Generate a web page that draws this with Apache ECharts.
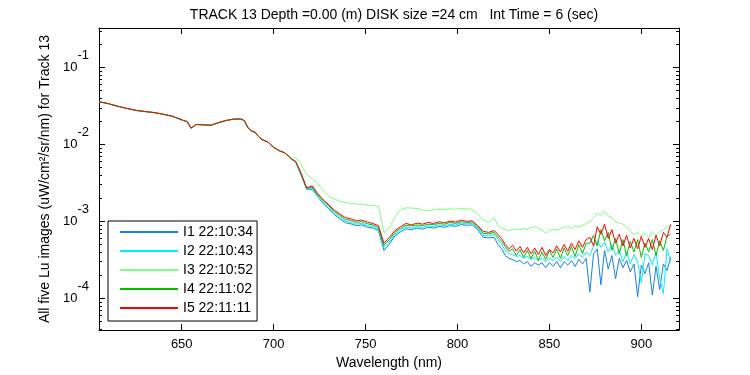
<!DOCTYPE html>
<html>
<head>
<meta charset="utf-8">
<script src="https://cdn.jsdelivr.net/npm/echarts@6/dist/echarts.min.js"></script>
<style>
  html, body { margin: 0; padding: 0; background: #fff; }
  #luChart { width: 750px; height: 375px; }
</style>
</head>
<body>
<div id="luChart"></div>
<script>
// wavelengths where all five curves overlap (nm)
var headWl = [605, 610, 615, 620, 625, 630, 635, 640, 645, 648, 651, 653, 655, 656, 658, 662, 666, 670, 674, 678, 682, 684, 686, 688, 690, 692, 694, 697, 700, 703, 706, 708, 710];
var headLu = [0.036, 0.034, 0.0315, 0.0295, 0.0278, 0.0268, 0.026, 0.0247, 0.0232, 0.0218, 0.0205, 0.0198, 0.0163, 0.0165, 0.0182, 0.018, 0.0178, 0.0192, 0.0205, 0.0213, 0.0215, 0.0205, 0.0165, 0.015, 0.0144, 0.0125, 0.0115, 0.0107, 0.0092, 0.0083, 0.0078, 0.0071, 0.0064];

// wavelengths where the curves split apart (nm)
var tailWl = [712, 715, 718, 721, 724, 727, 730, 733, 736, 739, 742, 745, 748, 751, 754, 757, 760, 763, 766, 769, 772, 775, 778, 781, 784, 787, 790, 793, 796, 799, 802, 805, 808, 811, 814, 817,
	820, 822, 824, 826, 828, 830, 832, 834, 836, 838, 840, 842, 844, 846, 848, 850, 852, 854, 856, 858, 860, 862, 864, 866, 868, 870, 872, 874, 876, 878, 880, 882, 884, 886, 888, 890, 892, 894, 896, 898, 900, 902, 904, 906, 908, 910, 912, 914, 916];

var luI1 = [0.0059, 0.004, 0.0026, 0.0026, 0.0021, 0.0017, 0.00145, 0.00123, 0.00108, 0.00096, 0.00093, 0.00088, 0.0009, 0.00084, 0.00082, 0.00076, 0.00042, 0.00051, 0.00065, 0.00073, 0.0008, 0.00078, 0.00082, 0.00079, 0.00084, 0.00082, 0.00086, 0.00084, 0.00088, 0.00086, 0.00091, 0.00089, 0.0009, 0.00078, 0.00062, 0.00061,
	0.00062, 0.0005, 0.00044, 0.00036, 0.00033, 0.00032, 0.0003, 0.00031, 0.00028, 0.0003, 0.00026, 0.00029, 0.00027, 0.00029, 0.00025, 0.00029, 0.00026, 0.0003, 0.00025, 0.0003, 0.00027, 0.00031, 0.00026, 0.00032, 0.00028, 0.00033, 0.00012, 0.00038, 0.00044, 0.00015, 0.00042, 0.00024, 0.00036, 0.00018, 0.00033, 0.00025, 0.00031, 0.00022, 0.00028, 0.000105, 0.00027, 0.00021, 0.00029, 0.00011, 0.00026, 0.00013, 0.00028, 0.00023, 0.00034];
var luI2 = [0.0059, 0.004, 0.0026, 0.0027, 0.0021, 0.00175, 0.0015, 0.00128, 0.00113, 0.00101, 0.00097, 0.00092, 0.00094, 0.00088, 0.00086, 0.00079, 0.00046, 0.00054, 0.00068, 0.00077, 0.00084, 0.00082, 0.00086, 0.00083, 0.00088, 0.00086, 0.0009, 0.00088, 0.00092, 0.0009, 0.00095, 0.00093, 0.00094, 0.00081, 0.00066, 0.00065,
	0.00068, 0.00058, 0.0005, 0.00042, 0.00038, 0.00037, 0.00035, 0.00036, 0.00033, 0.00035, 0.00032, 0.00034, 0.00031, 0.00033, 0.0003, 0.00033, 0.00031, 0.00034, 0.0003, 0.00035, 0.00031, 0.00036, 0.00033, 0.00038, 0.00034, 0.0004, 0.00036, 0.00048, 0.00056, 0.00046, 0.00054, 0.0004, 0.0005, 0.00036, 0.00042, 0.0003, 0.0004, 0.00028, 0.00037, 0.0003, 0.00016, 0.00038, 0.00036, 0.00027, 0.0004, 0.00018, 0.000115, 0.00044, 0.0003];
var luI3 = [0.0068, 0.0055, 0.0041, 0.0036, 0.0031, 0.0025, 0.0021, 0.00196, 0.00182, 0.00176, 0.00172, 0.00168, 0.00166, 0.00163, 0.00161, 0.00158, 0.00072, 0.00082, 0.00115, 0.00142, 0.0015, 0.00149, 0.00147, 0.00141, 0.00137, 0.00142, 0.00145, 0.00143, 0.00146, 0.00144, 0.00147, 0.00145, 0.00144, 0.00125, 0.00103, 0.00097,
	0.00112, 0.00088, 0.00082, 0.00078, 0.00076, 0.00078, 0.0008, 0.00078, 0.00081, 0.00079, 0.00082, 0.00086, 0.00082, 0.00078, 0.0007, 0.00076, 0.00079, 0.00077, 0.00081, 0.00083, 0.00085, 0.00081, 0.00087, 0.00085, 0.00089, 0.00094, 0.00098, 0.00112, 0.00128, 0.0012, 0.00135, 0.00118, 0.00112, 0.00098, 0.00095, 0.00092, 0.00084, 0.00074, 0.00068, 0.00072, 0.00065, 0.0007, 0.00062, 0.00074, 0.00066, 0.00072, 0.00078, 0.00085, 0.00088];
var luI4 = [0.006, 0.0041, 0.0027, 0.0028, 0.0022, 0.00185, 0.0016, 0.00135, 0.0012, 0.00106, 0.00103, 0.00097, 0.00099, 0.00093, 0.0009, 0.00083, 0.00049, 0.00058, 0.00072, 0.00081, 0.00089, 0.00087, 0.0009, 0.00088, 0.00092, 0.00091, 0.00094, 0.00092, 0.00097, 0.00094, 0.00099, 0.00097, 0.00098, 0.00085, 0.0007, 0.00069,
	0.00072, 0.00063, 0.00055, 0.00047, 0.00041, 0.00044, 0.00036, 0.00043, 0.00034, 0.00042, 0.00033, 0.00041, 0.00031, 0.0004, 0.00032, 0.00042, 0.00034, 0.00044, 0.00033, 0.00045, 0.00036, 0.00047, 0.00035, 0.0005, 0.00038, 0.00052,
	0.00052, 0.00066, 0.00048, 0.00078, 0.00056, 0.00072, 0.00042, 0.0006, 0.00038, 0.00058, 0.00036, 0.00055, 0.0004, 0.00058, 0.00034, 0.00052, 0.0004, 0.00058, 0.00036, 0.00056, 0.00042, 0.00064, 0.00068];
var luI5 = [0.006, 0.0042, 0.0027, 0.0029, 0.0023, 0.0019, 0.00165, 0.0014, 0.00125, 0.00112, 0.00108, 0.00102, 0.00104, 0.00098, 0.00094, 0.00088, 0.00052, 0.00062, 0.00076, 0.00085, 0.00094, 0.0009, 0.00095, 0.00092, 0.00097, 0.00094, 0.00099, 0.00096, 0.00101, 0.00098, 0.00104, 0.001, 0.00102, 0.00088, 0.00074, 0.00072,
	0.00076, 0.00068, 0.0006, 0.0005, 0.00044, 0.00049, 0.00041, 0.00047, 0.00039, 0.00046, 0.00038, 0.00045, 0.00037, 0.00046, 0.00036, 0.00043, 0.00039, 0.00048, 0.0004, 0.0005, 0.00041, 0.00052, 0.00043, 0.00056, 0.00046, 0.00058,
	0.00062, 0.00048, 0.00085, 0.00068, 0.00092, 0.0006, 0.00078, 0.00052, 0.00068, 0.00048, 0.00066, 0.00045, 0.0006, 0.00044, 0.00064, 0.00046, 0.0006, 0.00043, 0.00066, 0.00048, 0.00072, 0.00062, 0.00092];

var names = ['I1 22:10:34', 'I2 22:10:43', 'I3 22:10:52', 'I4 22:11:02', 'I5 22:11:11'];
var colors = ['#1a80e6', '#00f0ff', '#80ff80', '#00c000', '#ff0000'];

var xTicks = [650, 700, 750, 800, 850, 900];
var yMajor = [1e-4, 1e-3, 1e-2, 1e-1];
var yMinor = [4e-5, 5e-5, 6e-5, 7e-5, 8e-5, 9e-5,
	2e-4, 3e-4, 4e-4, 5e-4, 6e-4, 7e-4, 8e-4, 9e-4,
	2e-3, 3e-3, 4e-3, 5e-3, 6e-3, 7e-3, 8e-3, 9e-3,
	2e-2, 3e-2, 4e-2, 5e-2, 6e-2, 7e-2, 8e-2, 9e-2,
	2e-1, 3e-1];

var FONT = '"Liberation Sans", Arial, sans-serif';

function pairs(lu){
	var wl = headWl.concat(tailWl);
	var v = headLu.concat(lu);
	var out = [];
	for (var i = 0; i < wl.length; i++) out.push([wl[i], v[i]]);
	return out;
}

function yAxisOf(pos, ticks, len, labels){
	return {
		type: 'log',
		logBase: 10,
		position: pos,
		min: 3.86e-5,
		max: 0.327,
		name: labels ? 'All five Lu images (uW/cm\u00b2/sr/nm) for Track 13' : '',
		nameLocation: 'middle',
		nameGap: 31,
		nameTextStyle: { color: '#000', fontSize: 14, fontFamily: FONT },
		axisLine: { show: labels, lineStyle: { color: '#000', width: 1 } },
		axisTick: { show: true, inside: true, length: len, customValues: ticks, lineStyle: { color: '#000' } },
		axisLabel: {
			show: labels,
			customValues: yMajor,
			margin: 10,
			color: '#000',
			fontFamily: FONT,
			formatter: function (v) {
				return '{b|10}{e|' + Math.round(Math.log10(v)) + '}';
			},
			rich: {
				b: { fontSize: 13, fontFamily: FONT, color: '#000' },
				e: { fontSize: 13, fontFamily: FONT, color: '#000', padding: [0, 0, 24, 0] }
			}
		},
		splitLine: { show: false },
		minorTick: { show: false }
	};
}

function xAxisOf(pos, labels){
	return {
		type: 'value',
		position: pos,
		min: 605,
		max: 920.5,
		name: labels ? 'Wavelength (nm)' : '',
		nameLocation: 'middle',
		nameGap: 22,
		nameTextStyle: { color: '#000', fontSize: 14, fontFamily: FONT },
		axisLine: { show: true, onZero: false, lineStyle: { color: '#000', width: 1 } },
		axisTick: { show: true, inside: true, length: 6, customValues: xTicks, lineStyle: { color: '#000' } },
		axisLabel: { show: labels, customValues: xTicks, margin: 8, color: '#000', fontSize: 13, fontFamily: FONT },
		splitLine: { show: false }
	};
}

var seriesList = [luI1, luI2, luI3, luI4, luI5].map(function (lu, i) {
	return {
		name: names[i],
		type: 'line',
		xAxisIndex: 0,
		yAxisIndex: 0,
		data: pairs(lu),
		symbol: 'none',
		animation: false,
		lineStyle: { width: 1, color: colors[i] },
		itemStyle: { color: colors[i] }
	};
});

var option = {
	backgroundColor: '#fff',
	animation: false,
	title: {
		text: 'TRACK 13 Depth =0.00 (m) DISK size =24 cm   Int Time = 6 (sec)',
		left: 389,
		textAlign: 'center',
		top: 3,
		textStyle: { color: '#000', fontSize: 14, fontWeight: 'normal', fontFamily: FONT }
	},
	grid: { left: 99, right: 71, top: 28, bottom: 44 },
	legend: {
		data: names,
		orient: 'vertical',
		left: 108,
		top: 221,
		padding: [4, 4, 6, 11],
		itemWidth: 58,
		itemHeight: 14,
		itemGap: 5,
		itemStyle: { opacity: 0, borderWidth: 0 },
		backgroundColor: '#fff',
		borderColor: '#000',
		borderWidth: 1,
		borderRadius: 0,
		textStyle: { color: '#000', fontSize: 14, fontFamily: FONT }
	},
	xAxis: [xAxisOf('bottom', true), xAxisOf('top', false)],
	yAxis: [
		yAxisOf('left', yMajor, 6, true),
		yAxisOf('left', yMinor, 3, false),
		yAxisOf('right', yMajor, 6, false),
		yAxisOf('right', yMinor, 3, false)
	],
	series: seriesList
};
option.yAxis[2].axisLine.show = true;

var dom = document.getElementById('luChart');
var myChart = echarts.init(dom, null, { renderer: 'canvas' });
myChart.setOption(option);
</script>
</body>
</html>
